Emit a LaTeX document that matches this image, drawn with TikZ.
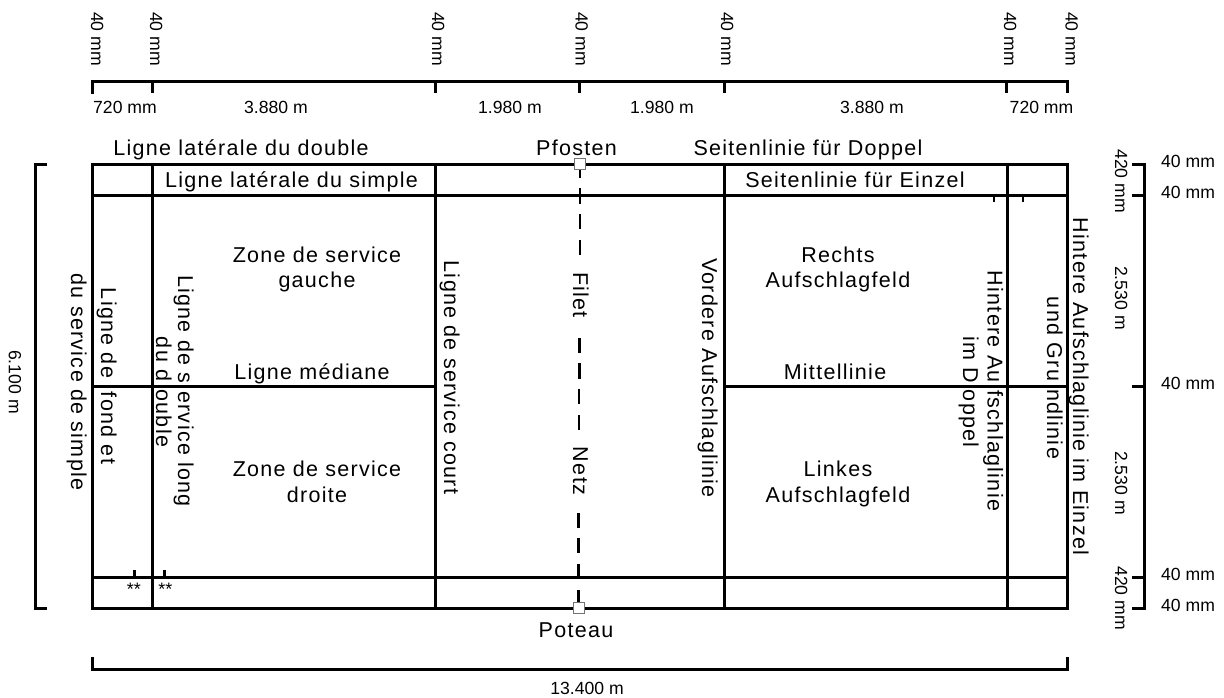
\documentclass[tikz,border=0pt]{standalone}
\usepackage{fontspec}
\setmainfont{Liberation Sans}
\newfontfamily\wide[LetterSpace=6]{Liberation Sans}
\tikzset{
  court/.style={line width=3pt,line join=miter},
  dim/.style={font=\fontsize{17.6}{20}\selectfont,inner sep=0pt,anchor=base},
  lab/.style={font=\wide\fontsize{21.5}{27}\selectfont,inner sep=0pt,anchor=base},
  vlab/.style={lab,rotate=-90},
  vdim/.style={dim,rotate=-90},
  post/.style={draw=black!55,fill=white,line width=1pt,minimum size=11pt,inner sep=0pt},
}
\begin{document}
\begin{tikzpicture}[x=1pt,y=-1pt]
\useasboundingbox (0,0) rectangle (1224,697);
% court
\draw[court] (92.5,164) rectangle (1067,608);
\foreach \x in {152,435.5,724,1007.5}{\draw[court] (\x,164) -- (\x,608);}
\foreach \y in {195,577}{\draw[court] (92.5,\y) -- (1067,\y);}
\draw[court] (92.5,386) -- (435.5,386);
\draw[court] (724,386) -- (1067,386);
% net
\foreach \a/\b/\x in {170/178/580,188/204/580,214/229/580,240/255/580,338/353/579.3,363/379/579.3,389/404/579,415/430/579,513/528/578.7,538/553/578.7,564/579/578.7,590/603/578.7}{\draw[line width=2.6pt] (\x,\a) -- (\x,\b);}
\node[post] (postT) at (579.7,164) {};
\node[post] (postB) at (578.7,608) {};
% small ticks
\foreach \x in {134.5,164.5}{\draw[line width=2.4pt] (\x,570) -- (\x,577);}
\foreach \x in {994,1023}{\draw[line width=2.4pt] (\x,195) -- (\x,202);}
\node[dim,font=\fontsize{18}{20}\selectfont] (st1) at (134,595) {**};
\node[dim,font=\fontsize{18}{20}\selectfont] (st2) at (165.5,595) {**};
% top scale
\draw[court] (92.5,94) -- (92.5,81) -- (1067,81) -- (1067,93);
\foreach \x in {152,435.5,579.5,724,1006.5}{\draw[court] (\x,81) -- (\x,93);}
% left bracket
\draw[court] (47,164) -- (35,164) -- (35,608) -- (47,608);
% bottom scale
\draw[court] (92.5,657) -- (92.5,669) -- (1067,669) -- (1067,657);
% right scale
\draw[court] (1132,164) -- (1144,164) -- (1144,608) -- (1132,608);
\foreach \y in {195,386,577}{\draw[court] (1132,\y) -- (1144,\y);}
% top labels
\foreach \x/\n in {91/a,150/b,432/c,575.5/d,721/e,1004/f,1065.5/g}{\node[vdim] (t\n) at (\x,39) {40 mm};}
\node[dim] (s1) at (125,113) {720 mm};
\node[dim] (s2) at (276,113) {3.880 m};
\node[dim] (s3) at (510,113) {1.980 m};
\node[dim] (s4) at (662,113) {1.980 m};
\node[dim] (s5) at (872,113) {3.880 m};
\node[dim] (s6) at (1041.5,113) {720 mm};
% right labels
\foreach \y/\n in {167/a,198/b,389/c,580/d,611/e}{\node[dim,anchor=base west] (r\n) at (1161,\y) {40 mm};}
\node[vdim] (h1) at (1115,181) {420 mm};
\node[vdim] (h2) at (1115,298) {2.530 m};
\node[vdim] (h3) at (1115,483) {2.530 m};
\node[vdim] (h4) at (1115,598) {420 mm};
% other dims
\node[vdim] (w) at (9,382) {6.100 m};
\node[dim] (l) at (587,694) {13.400 m};
% labels
\node[lab] (n1) at (241,155) {Ligne latérale du double};
\node[lab] (n2) at (291.5,187) {Ligne latérale du simple};
\node[lab] (n3) at (576.5,155) {Pfosten};
\node[lab] (n4) at (808,155) {Seitenlinie für Doppel};
\node[lab] (n5) at (855,187) {Seitenlinie für Einzel};
\node[lab] (n6a) at (317,262) {Zone de service};
\node[lab] (n6b) at (317,287) {gauche};
\node[lab] (n7a) at (317,476) {Zone de service};
\node[lab] (n7b) at (317,502) {droite};
\node[lab] (n8) at (312,379) {Ligne médiane};
\node[lab] (n9a) at (838,262) {Rechts};
\node[lab] (n9b) at (838,287) {Aufschlagfeld};
\node[lab] (n10a) at (838,476) {Linkes};
\node[lab] (n10b) at (838,502) {Aufschlagfeld};
\node[lab] (n11) at (835,379) {Mittellinie};
\node[lab] (n12) at (576,637) {Poteau};
% vertical labels
\node[vlab] (v1) at (101,376) {Ligne de\kern14pt fond et};
\node[vlab] (v2) at (71,382) {du service de simple};
\node[vlab] (v3) at (178,391) {Ligne de s\kern8pt ervice long};
\node[vlab] (v4) at (156,392) {du d\kern8pt ouble};
\node[vlab] (v5) at (444,377.5) {Ligne de service court};
\node[vlab] (v6) at (702,378) {Vordere Aufschlaglinie};
\node[vlab] (v7) at (573,295) {Filet};
\node[vlab] (v8) at (573,471) {Netz};
\node[vlab] (v9) at (987.5,391) {Hintere Au\kern8pt fschlaglinie};
\node[vlab] (v10) at (963,392) {im D\kern7pt oppel};
\node[vlab] (v11) at (1047,378) {und Gru\kern8pt ndlinie};
\node[vlab] (v12) at (1073,386.5) {Hintere Aufschlaglinie im Einzel};
\end{tikzpicture}
\end{document}
